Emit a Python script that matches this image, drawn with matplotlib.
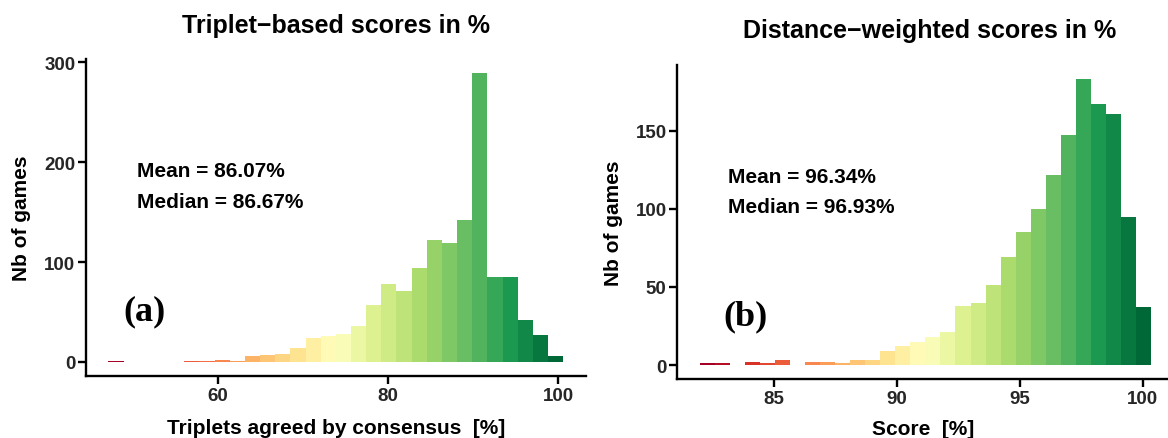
import numpy as np
import matplotlib
matplotlib.use("Agg")
import matplotlib.pyplot as plt

# Histogram counts (30 bins each) for the two scoring schemes
triplet_bin_start = 47.18
triplet_bin_width = 1.780
triplet_counts = [1, 0, 0, 0, 0, 1, 1, 2, 1, 6, 7, 8, 14, 24, 26, 28, 36, 57,
                  78, 71, 94, 122, 119, 142, 289, 85, 85, 42, 27, 6]

distance_bin_start = 81.98
distance_bin_width = 0.612
distance_counts = [1, 1, 0, 2, 1, 3, 0, 2, 2, 1, 3, 3, 9, 12, 15, 18, 21, 38,
                   40, 51, 69, 85, 100, 122, 147, 183, 167, 161, 95, 37]

triplet_stats = ["Mean = 86.07%", "Median = 86.67%"]
distance_stats = ["Mean = 96.34%", "Median = 96.93%"]

triplet_xticks = [60, 80, 100]
triplet_yticks = [0, 100, 200, 300]
distance_xticks = [85, 90, 95, 100]
distance_yticks = [0, 50, 100, 150]

plt.rcParams["font.family"] = ["Liberation Sans", "DejaVu Sans"]
plt.rcParams["font.weight"] = "bold"

W, H = 1168, 439
fig = plt.figure(figsize=(W / 100, H / 100), dpi=100)


def px_axes(x0, y0, x1, y1):
    return fig.add_axes([x0 / W, 1 - y1 / H, (x1 - x0) / W, (y1 - y0) / H])


def histogram(ax, start, width, counts, xticks, yticks):
    n = len(counts)
    edges = start + width * np.arange(n)
    cmap = plt.get_cmap("RdYlGn")
    colors = [cmap(i / (n - 1)) for i in range(n)]
    ax.bar(edges, counts, width=width, align="edge", color=colors,
           edgecolor="none", linewidth=0)
    ax.use_sticky_edges = False
    ax.margins(x=0.05, y=0.05)
    for side in ("top", "right"):
        ax.spines[side].set_visible(False)
    for side in ("left", "bottom"):
        ax.spines[side].set_linewidth(1.7)
        ax.spines[side].set_color("black")
    ax.set_xticks(xticks)
    ax.set_yticks(yticks)
    ax.tick_params(axis="both", length=6, width=1.7, color="black",
                   labelsize=13.5, labelcolor="#262626", pad=1.5)
    for lab in ax.get_xticklabels() + ax.get_yticklabels():
        lab.set_fontweight("bold")


ax1 = px_axes(85.7, 60, 586, 377.4)
histogram(ax1, triplet_bin_start, triplet_bin_width, triplet_counts,
          triplet_xticks, triplet_yticks)
ax1.set_xlabel("Triplets agreed by consensus  [%]", fontsize=15,
               fontweight="bold", va="center")
ax1.xaxis.set_label_coords(0.5, -0.162)
ax1.set_ylabel("Nb of games", fontsize=15, fontweight="bold", va="center")
ax1.yaxis.set_label_coords(-0.128, 0.5)
ax1.text(50.53, 192, triplet_stats[0], fontsize=15, fontweight="bold",
         ha="left", va="center")
ax1.text(50.53, 160.8, triplet_stats[1], fontsize=15, fontweight="bold",
         ha="left", va="center")
ax1.text(51.47, 51.3, "(a)", fontsize=26, fontweight="bold",
         family=["Liberation Serif", "DejaVu Serif"], ha="center", va="center")

ax2 = px_axes(677, 66, 1173.7, 380.3)
histogram(ax2, distance_bin_start, distance_bin_width, distance_counts,
          distance_xticks, distance_yticks)
ax2.set_xlabel("Score  [%]", fontsize=15, fontweight="bold", va="center")
ax2.xaxis.set_label_coords((923 - 677) / 496.7, -0.155)
ax2.set_ylabel("Nb of games", fontsize=15, fontweight="bold", va="center")
ax2.yaxis.set_label_coords(-0.128, 0.5)
ax2.text(83.13, 121, distance_stats[0], fontsize=15, fontweight="bold",
         ha="left", va="center")
ax2.text(83.13, 101.8, distance_stats[1], fontsize=15, fontweight="bold",
         ha="left", va="center")
ax2.text(83.84, 31.4, "(b)", fontsize=26, fontweight="bold",
         family=["Liberation Serif", "DejaVu Serif"], ha="center", va="center")

fig.text(336 / W, 1 - 26 / H, "Triplet\u2212based scores in %", fontsize=18,
         fontweight="bold", ha="center", va="center")
fig.text(930 / W, 1 - 31 / H, "Distance\u2212weighted scores in %", fontsize=18,
         fontweight="bold", ha="center", va="center")

fig.savefig("out.png", dpi=100)
